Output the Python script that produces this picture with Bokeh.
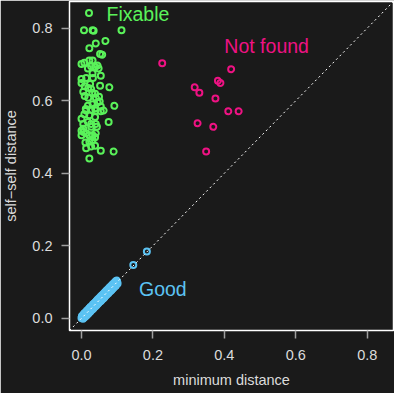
from bokeh.plotting import figure
from bokeh.models import Range1d, FixedTicker, Slope, Label, PrintfTickFormatter
from bokeh.embed import file_html
from bokeh.resources import INLINE

# ---- data ----
fixable_x = [0.021, 0.007, 0.031, 0.034, 0.112, 0.067, 0.040, 0.022, 0.052, 0.058,
             0.000, 0.008, 0.022, 0.031, 0.027, 0.038, 0.045, 0.018, 0.031, 0.054,
             0.000, 0.000, 0.009, 0.024, 0.052, 0.078, 0.005, 0.027, 0.030, 0.009,
             0.040, 0.049, 0.018, 0.031, 0.045, 0.054, 0.092, 0.012, 0.027, 0.038,
             0.013, 0.040, 0.054, 0.076, 0.000, 0.005, 0.000, 0.018, 0.027, 0.040,
             0.013, 0.022, 0.031, 0.040, 0.031, 0.038, 0.013, 0.027, 0.038, 0.054,
             0.090, 0.022, 0.000, 0.006, 0.019, 0.062, 0.051, 0.027, 0.048, 0.013,
             0.008, 0.022, 0.038, 0.005, 0.032, 0.038, 0.043, 0.022, 0.011, 0.019]
fixable_y = [0.842, 0.794, 0.794, 0.793, 0.794, 0.765, 0.758, 0.745, 0.729, 0.727,
             0.701, 0.705, 0.711, 0.711, 0.695, 0.694, 0.697, 0.689, 0.676, 0.669,
             0.660, 0.649, 0.640, 0.646, 0.641, 0.637, 0.625, 0.633, 0.622, 0.613,
             0.608, 0.611, 0.586, 0.590, 0.595, 0.584, 0.586, 0.577, 0.575, 0.579,
             0.573, 0.573, 0.571, 0.541, 0.550, 0.523, 0.517, 0.541, 0.536, 0.536,
             0.510, 0.505, 0.505, 0.510, 0.492, 0.499, 0.469, 0.474, 0.476, 0.462,
             0.460, 0.441, 0.505, 0.514, 0.608, 0.573, 0.598, 0.528, 0.689, 0.663,
             0.563, 0.560, 0.555, 0.536, 0.663, 0.619, 0.528, 0.487, 0.485, 0.635]

notfound_x = [0.226, 0.317, 0.330, 0.419, 0.382, 0.389, 0.375, 0.325, 0.411, 0.440, 0.369, 0.349]
notfound_y = [0.703, 0.637, 0.622, 0.687, 0.655, 0.649, 0.606, 0.538, 0.571, 0.571, 0.528, 0.460]

good_x = [0.000, 0.002, 0.004, 0.006, 0.009, 0.011, 0.013, 0.016, 0.018, 0.021,
          0.023, 0.026, 0.028, 0.031, 0.034, 0.037, 0.040, 0.043, 0.046, 0.049,
          0.052, 0.055, 0.058, 0.061, 0.064, 0.067, 0.070, 0.073, 0.076, 0.079,
          0.082, 0.085, 0.088, 0.091, 0.094, 0.097, 0.100, 0.145, 0.183,
          0.001, 0.005, 0.008, 0.012, 0.015, 0.019, 0.022, 0.025, 0.029, 0.032,
          0.035, 0.039, 0.042, 0.045, 0.048, 0.051, 0.054, 0.057, 0.060, 0.063,
          0.066, 0.069, 0.072, 0.075, 0.078, 0.081, 0.084, 0.087, 0.090, 0.093,
          0.096, 0.099,
          0.004, 0.007, 0.010, 0.014, 0.017, 0.020, 0.024, 0.027, 0.030, 0.033,
          0.036, 0.039, 0.042, 0.045, 0.048, 0.051, 0.054, 0.057, 0.060, 0.063,
          0.066, 0.069, 0.072, 0.075, 0.078, 0.081, 0.084, 0.087, 0.090, 0.093,
          0.096, 0.101]
good_y = [0.001, 0.002, 0.005, 0.006, 0.008, 0.011, 0.014, 0.015, 0.018, 0.022,
          0.023, 0.025, 0.029, 0.031, 0.033, 0.038, 0.040, 0.042, 0.047, 0.049,
          0.051, 0.056, 0.058, 0.060, 0.065, 0.067, 0.069, 0.074, 0.076, 0.078,
          0.083, 0.085, 0.087, 0.092, 0.094, 0.096, 0.100, 0.147, 0.184,
          0.006, 0.010, 0.014, 0.017, 0.021, 0.024, 0.028, 0.031, 0.034, 0.038,
          0.041, 0.044, 0.048, 0.051, 0.054, 0.057, 0.060, 0.063, 0.066, 0.069,
          0.072, 0.075, 0.078, 0.081, 0.084, 0.087, 0.090, 0.093, 0.096, 0.099,
          0.102, 0.104,
          -0.001, 0.002, 0.004, 0.008, 0.011, 0.014, 0.018, 0.021, 0.024, 0.027,
          0.030, 0.033, 0.036, 0.039, 0.042, 0.045, 0.048, 0.051, 0.054, 0.057,
          0.060, 0.063, 0.066, 0.069, 0.072, 0.075, 0.078, 0.081, 0.084, 0.087,
          0.090, 0.096]

tick_values = [0.0, 0.2, 0.4, 0.6, 0.8]
x_title = "minimum distance"
y_title = "self\u2212self distance"

BG = "#1a1a1a"
GREEN = "#5af25a"
PINK = "#ee1283"
BLUE = "#5cc3f3"
FONT = "Liberation Sans"

p = figure(width=394, height=393, output_backend="svg", toolbar_location=None,
           x_range=Range1d(-0.0336, 0.8736), y_range=Range1d(-0.0336, 0.8736),
           min_border_left=65, min_border_right=1, min_border_top=1, min_border_bottom=63)
p.background_fill_color = BG
p.border_fill_color = BG
p.outline_line_color = "white"
p.outline_line_width = 1.5
p.grid.visible = False

for ax in (p.xaxis[0], p.yaxis[0]):
    ax.ticker = FixedTicker(ticks=tick_values)
    ax.formatter = PrintfTickFormatter(format="%.1f")
    ax.axis_line_color = None
    ax.minor_tick_line_color = None
    ax.major_tick_in = 0
    ax.major_tick_out = 8
    ax.major_tick_line_color = "#a0a0a0"
    ax.major_tick_line_width = 1.5
    ax.major_label_text_color = "#dcdcdc"
    ax.major_label_text_font = FONT
    ax.major_label_text_font_size = "14.5px"
    ax.axis_label_text_color = "#dcdcdc"
    ax.axis_label_text_font = FONT
    ax.axis_label_text_font_size = "14.5px"
    ax.axis_label_text_font_style = "normal"

p.xaxis[0].axis_label = x_title
p.yaxis[0].axis_label = y_title
p.xaxis[0].major_label_standoff = 11
p.yaxis[0].major_label_standoff = 9
p.xaxis[0].axis_label_standoff = 9
p.yaxis[0].axis_label_standoff = 10

p.scatter(good_x, good_y, marker="circle", size=6, fill_color=None,
          line_color=BLUE, line_width=2)
p.scatter(fixable_x, fixable_y, marker="circle", size=6, fill_color=None,
          line_color=GREEN, line_width=2)
p.scatter(notfound_x, notfound_y, marker="circle", size=6, fill_color=None,
          line_color=PINK, line_width=2)

p.add_layout(Slope(gradient=1, y_intercept=0, line_color="white",
                   line_width=1, line_dash="2 3"))

for txt, x, y, col in (("Fixable", 0.070, 0.840, GREEN),
                       ("Not found", 0.400, 0.751, PINK),
                       ("Good", 0.161, 0.081, BLUE)):
    p.add_layout(Label(x=x, y=y, text=txt, text_color=col, text_font=FONT,
                       text_font_size="19.5px", text_baseline="middle",
                       text_align="left"))

open("out.html", "w").write(file_html(p, INLINE))
